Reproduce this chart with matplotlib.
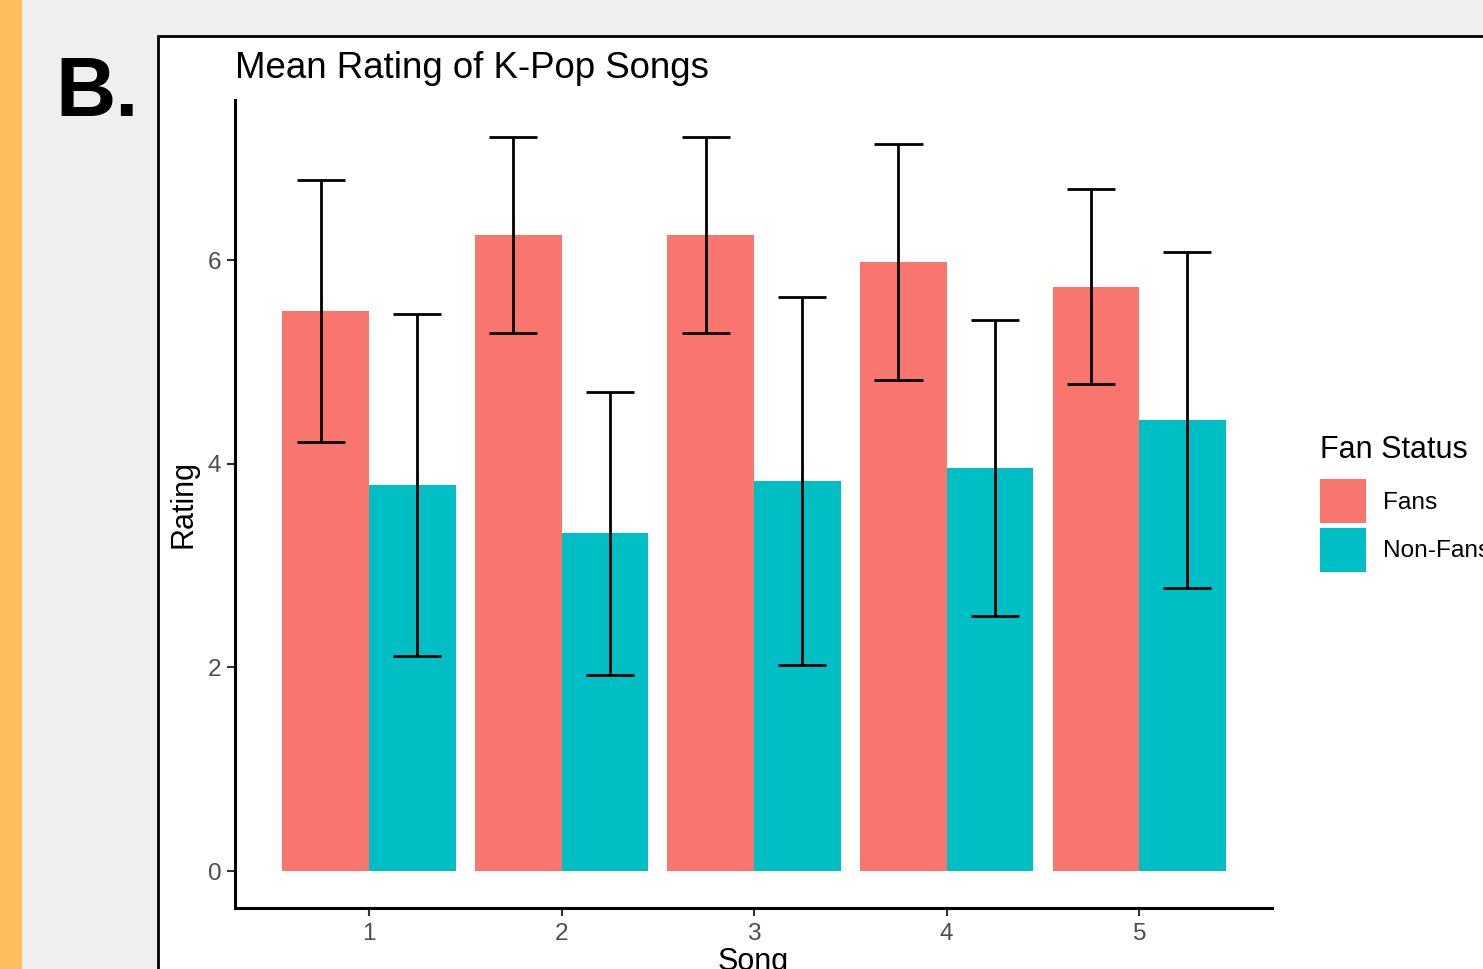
import matplotlib
matplotlib.use("Agg")
import matplotlib.pyplot as plt
import matplotlib.patches as mpatches
import numpy as np

plt.rcParams['font.family'] = ['Liberation Sans', 'DejaVu Sans']

songs = [1, 2, 3, 4, 5]
song_labels = ["1", "2", "3", "4", "5"]
fans_mean = [5.50, 6.25, 6.25, 5.98, 5.74]
fans_err = [1.29, 0.96, 0.96, 1.16, 0.96]
nonfans_mean = [3.79, 3.32, 3.83, 3.96, 4.43]
nonfans_err = [1.68, 1.39, 1.81, 1.45, 1.65]
groups = ["Fans", "Non-Fans"]
colors = ["#F8766D", "#00BFC4"]
yticks = [0, 2, 4, 6]

W, H = 1483, 969
fig = plt.figure(figsize=(W / 100, H / 100), dpi=100)
fig.patch.set_facecolor("#EFEFEF")

# orange strip and white panel
fig.patches.append(mpatches.Rectangle((0, 0), 22 / W, 1, transform=fig.transFigure,
                                      facecolor="#FFBE5C", edgecolor="none", zorder=-10))
fig.patches.append(mpatches.Rectangle((158 / W, -0.1), 2, (1 - 36 / H) + 0.1,
                                      transform=fig.transFigure, facecolor="white",
                                      edgecolor="black", linewidth=2, zorder=-10))
fig.text(55 / W, 1 - 116 / H, "B.", fontsize=60, fontweight="bold", color="black",
         ha="left", va="baseline")

ax = fig.add_axes([235 / W, 1 - 908 / H, (1272 - 235) / W, (908 - 100) / H])
ax.set_zorder(1)
ax.set_facecolor("none")

x = np.array(songs, dtype=float)
bw = 0.45
ax.bar(x - bw / 2, fans_mean, width=bw, color=colors[0], label=groups[0], zorder=2)
ax.bar(x + bw / 2, nonfans_mean, width=bw, color=colors[1], label=groups[1], zorder=2)

off = 0.25
cap = 0.125
for means, errs, sign in [(fans_mean, fans_err, -1), (nonfans_mean, nonfans_err, 1)]:
    m = np.array(means)
    e = np.array(errs)
    xe = x + sign * off
    ax.vlines(xe, m - e, m + e, color="black", linewidth=2, zorder=3)
    ax.hlines(m - e, xe - cap, xe + cap, color="black", linewidth=2, zorder=3)
    ax.hlines(m + e, xe - cap, xe + cap, color="black", linewidth=2, zorder=3)

ax.set_xlim(0.304, 5.69)
ax.set_ylim(-0.363, 7.574)
ax.set_xticks(songs)
ax.set_xticklabels(song_labels)
ax.set_yticks(yticks)
for s in ["top", "right"]:
    ax.spines[s].set_visible(False)
for s in ["left", "bottom"]:
    ax.spines[s].set_color("black")
    ax.spines[s].set_linewidth(2.2)
ax.tick_params(axis="both", length=5.5, width=1.5, color="#333333",
               labelcolor="#4D4D4D", labelsize=17.6)
ax.tick_params(axis="y", pad=4.4)
ax.tick_params(axis="x", pad=5)

ax.set_title("Mean Rating of K-Pop Songs", loc="left", fontsize=26.4, color="black", pad=16)
ax.set_ylabel("Rating", fontsize=22, color="black")
ax.set_xlabel("Song", fontsize=22, color="black")
ax.yaxis.set_label_coords(-0.035, 0.5)
ax.xaxis.set_label_coords(0.5, -0.048)

handles = [mpatches.Patch(facecolor=colors[0], edgecolor="none"),
           mpatches.Patch(facecolor=colors[1], edgecolor="none")]
leg = ax.legend(handles, groups, loc="upper left",
                bbox_to_anchor=(1320 / W, 1 - 479 / H), bbox_transform=fig.transFigure,
                frameon=False, fontsize=17.6,
                borderpad=0, handlelength=1.88, handleheight=2.39, labelspacing=0.19,
                handletextpad=0.7, borderaxespad=0)
fig.text(1320 / W, 1 - 450 / H, "Fan Status", fontsize=22, color="black",
         ha="left", va="center")

fig.savefig("out.png", dpi=100, facecolor=fig.get_facecolor())
